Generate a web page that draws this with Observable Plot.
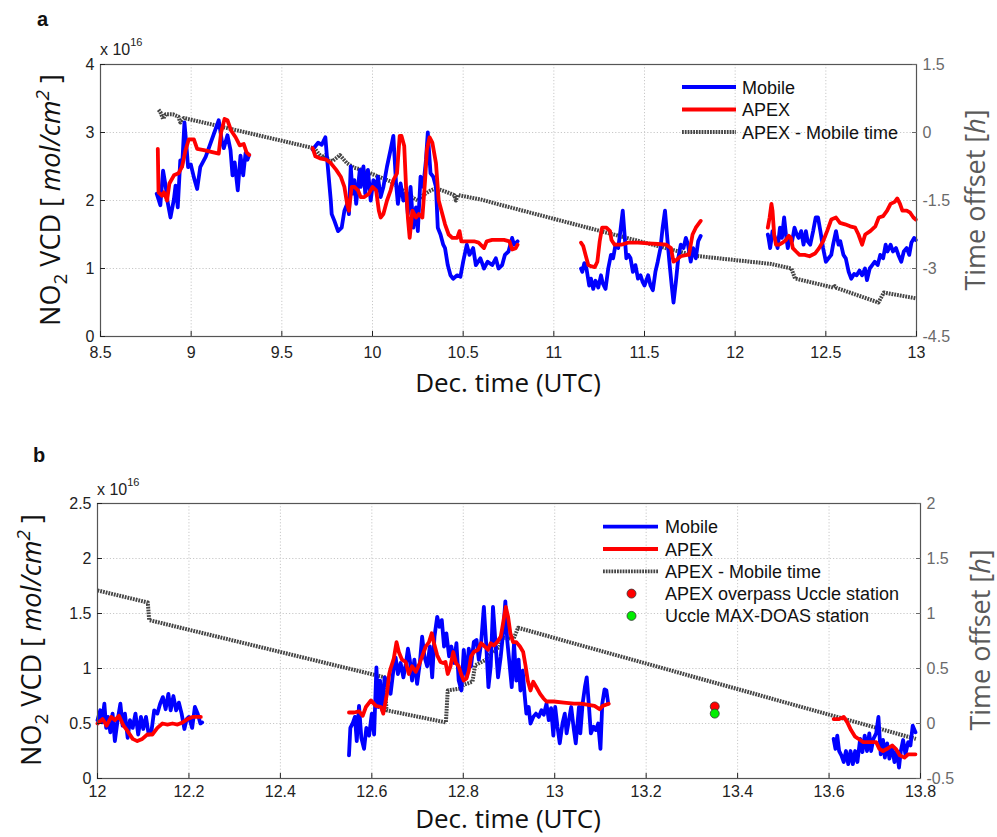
<!DOCTYPE html>
<html><head><meta charset="utf-8">
<script src="https://cdn.jsdelivr.net/npm/d3@7"></script>
<script src="https://cdn.jsdelivr.net/npm/@observablehq/plot@0.6"></script>
<style>
body{margin:0;background:#fff;}
#wrap{position:relative;width:997px;height:837px;overflow:hidden;}
#wrap svg{position:absolute;left:0;}
</style></head><body><div id="wrap"></div>
<script>
// ---------------- Panel a data (VCD in 1e16 molec/cm2, offset in h) ----------------
const aXTicks = [8.5, 9, 9.5, 10, 10.5, 11, 11.5, 12, 12.5, 13];
const aYTicks = [0, 1, 2, 3, 4];
const aRTicks = [-4.5, -3, -1.5, 0, 1.5];

const aMobileT = [8.81,8.83,8.845,8.86,8.87,8.886,8.905,8.914,8.926,8.94,8.95,8.963,8.974,8.983,8.998,9.015,9.033,9.05,9.08,9.152,9.17,9.18,9.2,9.217,9.228,9.24,9.257,9.272,9.287,9.3,9.31,9.32,
 null,
 9.67,9.70,9.72,9.74,9.75,9.77,9.775,9.79,9.81,9.83,9.845,9.86,9.87,9.88,9.89,9.90,9.91,9.93,9.935,9.95,9.96,9.975,9.99,10.005,10.02,10.03,10.045,10.06,10.08,10.10,10.115,10.13,10.14,10.155,10.17,10.185,10.195,10.21,10.225,10.24,10.25,10.265,10.28,10.295,10.305,10.32,10.335,10.35,10.36,10.375,10.39,10.40,10.415,10.43,10.445,10.467,10.485,10.50,10.52,10.535,10.555,10.57,10.595,10.615,10.635,10.66,10.68,10.695,10.715,10.73,10.75,10.77,10.78,10.80,
 null,
 11.15,11.157,11.168,11.18,11.195,11.205,11.217,11.23,11.245,11.26,11.27,11.285,11.30,11.315,11.327,11.34,11.355,11.367,11.38,11.39,11.40,11.412,11.423,11.436,11.45,11.464,11.478,11.49,11.50,11.52,11.533,11.546,11.56,11.573,11.588,11.60,11.613,11.624,11.637,11.65,11.66,11.673,11.686,11.70,11.715,11.728,11.74,11.755,11.768,11.783,11.796,11.81,
 null,
 12.18,12.184,12.193,12.206,12.22,12.234,12.247,12.258,12.27,12.28,12.29,12.303,12.314,12.327,12.34,12.35,12.364,12.377,12.39,12.40,12.414,12.43,12.444,12.457,12.47,12.485,12.50,12.515,12.53,12.54,12.556,12.57,12.58,12.597,12.61,12.626,12.64,12.656,12.67,12.686,12.70,12.716,12.727,12.742,12.756,12.77,12.786,12.80,12.816,12.83,12.84,12.857,12.87,12.887,12.90,12.916,12.93,12.946,12.96,12.972,12.987,12.996];
const aMobileV = [2.1,1.93,2.44,2.2,1.98,1.75,2.02,2.22,1.9,2.59,2.5,3.15,2.8,2.49,2.53,2.34,2.17,2.49,2.64,3.18,2.86,2.77,2.96,2.74,2.37,2.56,2.15,2.66,2.37,2.7,2.6,2.67,
 null,
 2.75,2.85,2.82,2.93,2.6,2.0,1.8,1.7,1.55,1.6,1.85,1.95,1.8,2.5,2.1,2.3,1.95,2.45,2.2,2.5,2.1,2.45,2.0,2.3,2.15,2.35,2.05,2.2,2.5,2.75,2.95,2.25,1.95,2.25,2.0,2.1,1.8,2.2,1.6,1.9,1.55,2.35,2.2,2.6,3.0,2.4,2.35,2.2,1.6,1.5,1.35,1.3,1.05,0.9,0.85,0.9,0.88,1.1,1.35,1.2,1.3,1.05,1.15,1.0,1.1,1.05,1.15,1.0,1.05,1.2,1.25,1.45,1.35,1.4,
 null,
 1.0,0.95,1.08,1.0,0.75,0.85,0.7,0.82,0.72,0.9,0.78,0.7,1.0,1.2,1.15,1.35,1.3,1.55,1.85,1.5,1.15,1.2,1.15,0.95,1.05,0.85,0.9,0.8,0.75,0.9,0.75,0.68,0.95,1.1,1.3,1.6,1.85,1.5,1.1,0.75,0.5,0.8,1.15,1.35,1.3,1.45,1.35,1.1,1.3,1.15,1.4,1.48,
 null,
 1.5,1.45,1.3,1.55,1.45,1.3,1.6,1.45,1.75,1.5,1.3,1.45,1.4,1.6,1.5,1.45,1.55,1.35,1.55,1.4,1.35,1.55,1.75,1.75,1.55,1.3,1.1,1.15,1.2,1.35,1.55,1.35,1.4,1.2,1.15,0.95,0.85,0.92,0.9,0.97,0.9,1.0,0.83,1.0,1.05,1.1,1.05,1.2,1.15,1.35,1.25,1.35,1.25,1.3,1.2,1.1,1.25,1.3,1.2,1.38,1.45,1.42];

const aApexT = [8.816,8.82,8.84,8.85,8.867,8.88,8.905,8.93,8.95,8.969,8.987,9.015,9.033,9.07,9.152,9.165,9.184,9.2,9.22,9.245,9.268,9.29,9.305,9.32,
 null,
 9.67,9.685,9.71,9.745,9.77,9.80,9.825,9.845,9.86,9.87,9.885,9.90,9.92,9.935,9.955,9.98,10.0,10.02,10.035,10.045,10.06,10.08,10.10,10.115,10.135,10.15,10.16,10.175,10.185,10.195,10.205,10.22,10.24,10.255,10.275,10.29,10.30,10.315,10.33,10.35,10.365,10.385,10.40,10.42,10.44,10.467,10.48,10.49,10.50,10.53,10.56,10.585,10.615,10.63,10.66,10.69,10.725,10.755,10.77,10.79,10.80,
 null,
 11.15,11.162,11.175,11.19,11.208,11.226,11.24,11.253,11.266,11.29,11.31,11.318,11.335,11.372,11.41,11.464,11.52,11.573,11.62,11.646,11.66,11.673,11.70,11.734,11.745,11.765,11.783,11.81,
 null,
 12.18,12.19,12.20,12.206,12.215,12.225,12.243,12.262,12.28,12.296,12.307,12.318,12.336,12.355,12.383,12.41,12.44,12.463,12.485,12.507,12.53,12.556,12.578,12.606,12.634,12.662,12.68,12.70,12.717,12.745,12.773,12.792,12.816,12.838,12.857,12.88,12.894,12.909,12.922,12.946,12.965,12.983,12.996];
const aApexV = [2.76,2.12,2.07,2.12,2.0,2.25,2.37,2.4,2.5,2.74,2.9,2.9,2.76,2.74,2.69,3.0,3.2,3.18,3.03,2.93,2.81,2.83,2.71,2.67,
 null,
 2.77,2.65,2.62,2.6,2.55,2.45,2.35,2.2,1.95,1.85,2.2,2.2,2.15,2.05,2.05,2.1,2.2,2.15,1.85,1.75,1.8,2.0,2.15,2.3,2.4,2.95,2.95,2.8,2.2,1.75,1.45,1.85,1.75,1.8,1.75,2.3,2.75,2.93,2.85,2.55,2.0,1.8,1.65,1.5,1.45,1.45,1.55,1.4,1.4,1.4,1.4,1.38,1.3,1.4,1.42,1.42,1.42,1.4,1.28,1.3,1.35,
 null,
 1.38,1.33,1.2,1.05,1.03,1.02,1.1,1.4,1.6,1.6,1.55,1.42,1.35,1.35,1.38,1.38,1.37,1.36,1.35,1.3,1.1,1.12,1.18,1.2,1.2,1.5,1.6,1.7,
 null,
 1.6,1.75,1.95,1.85,1.5,1.35,1.35,1.38,1.42,1.48,1.45,1.3,1.25,1.2,1.2,1.18,1.22,1.3,1.4,1.55,1.72,1.75,1.67,1.65,1.62,1.6,1.5,1.35,1.5,1.55,1.62,1.75,1.77,1.85,1.95,1.98,2.03,1.95,1.85,1.85,1.82,1.75,1.72];

const aOffsetT = [8.82,8.83,8.845,8.86,8.90,8.93,8.94,8.96,9.68,9.72,9.74,9.76,9.78,9.82,9.86,9.90,9.95,9.99,10.05,10.10,10.17,10.21,10.25,10.28,10.32,10.35,10.40,10.45,10.46,10.47,10.60,10.71,11.78,12.20,12.31,12.33,12.54,12.55,12.56,12.79,12.82,13.0];
const aOffsetV = [0.5,0.45,0.3,0.4,0.4,0.35,0.22,0.32,-0.35,-0.55,-0.5,-0.62,-0.63,-0.5,-0.68,-0.78,-0.83,-0.9,-1.0,-1.08,-1.28,-1.41,-1.5,-1.38,-1.28,-1.23,-1.3,-1.38,-1.5,-1.38,-1.48,-1.6,-2.72,-2.9,-3.0,-3.22,-3.42,-3.39,-3.43,-3.75,-3.53,-3.66];

// ---------------- Panel b data ----------------
const bXTicks = [12, 12.2, 12.4, 12.6, 12.8, 13, 13.2, 13.4, 13.6, 13.8];
const bYTicks = [0, 0.5, 1, 1.5, 2, 2.5];
const bRTicks = [-0.5, 0, 0.5, 1, 1.5, 2];

const bMobileT = [12.0,12.006,12.01,12.015,12.019,12.023,12.028,12.033,12.038,12.044,12.05,12.055,12.06,12.066,12.071,12.077,12.083,12.089,12.095,12.1,12.106,12.112,12.118,12.124,12.131,12.137,12.143,12.149,12.155,12.16,12.166,12.172,12.178,12.184,12.19,12.195,12.2,12.207,12.213,12.219,12.225,12.229,
 null,
 12.55,12.553,12.558,12.563,12.567,12.572,12.577,12.583,12.588,12.594,12.6,12.605,12.61,12.614,12.618,12.623,12.628,12.641,12.647,12.652,12.657,12.663,12.669,12.674,12.679,12.683,12.688,12.693,12.699,12.705,12.71,12.715,12.721,12.727,12.732,12.737,12.743,12.748,12.753,12.758,12.763,12.769,12.774,12.78,12.785,12.79,12.796,12.801,12.807,12.812,12.817,12.823,12.829,12.834,12.839,12.845,12.85,12.855,12.86,12.865,12.871,12.876,12.882,12.887,12.892,12.896,12.901,12.906,12.911,12.916,12.921,12.925,12.93,12.934,12.938,12.943,12.947,12.953,12.959,12.965,12.971,12.976,12.982,12.987,12.992,12.997,13.001,13.006,13.011,13.017,13.022,13.026,13.031,13.036,13.042,13.046,13.053,13.056,13.061,13.066,13.07,13.075,13.079,13.085,13.09,13.095,13.1,13.104,13.109,13.113,13.117,
 null,
 13.61,13.614,13.618,13.622,13.627,13.632,13.637,13.642,13.647,13.652,13.657,13.662,13.668,13.673,13.678,13.683,13.688,13.692,13.697,13.703,13.708,13.713,13.718,13.722,13.727,13.732,13.738,13.743,13.748,13.753,13.757,13.762,13.767,13.773,13.778,13.783,13.789];
const bMobileV = [0.53,0.62,0.51,0.68,0.46,0.56,0.42,0.59,0.34,0.53,0.68,0.48,0.59,0.37,0.53,0.46,0.59,0.4,0.56,0.45,0.56,0.4,0.43,0.62,0.59,0.68,0.74,0.63,0.77,0.62,0.75,0.62,0.69,0.59,0.45,0.54,0.56,0.46,0.65,0.59,0.5,0.51,
 null,
 0.21,0.46,0.5,0.56,0.34,0.66,0.37,0.27,0.46,0.39,0.59,0.4,1.01,0.65,0.89,0.62,0.92,0.77,0.98,1.1,0.95,1.05,0.92,1.03,1.18,1.08,0.89,1.08,0.86,1.05,1.29,1.11,1.02,1.2,0.92,1.29,1.47,1.38,1.44,1.2,1.32,1.11,1.2,1.05,1.23,0.89,0.8,1.17,0.92,1.18,1.02,1.24,1.26,1.08,1.23,1.56,1.23,0.83,1.02,1.56,1.2,0.92,1.11,1.32,1.61,1.26,1.05,0.83,1.23,0.89,1.08,0.8,0.98,0.77,0.59,0.65,0.5,0.56,0.59,0.56,0.62,0.58,0.68,0.53,0.64,0.39,0.65,0.47,0.32,0.5,0.59,0.41,0.53,0.65,0.44,0.32,0.65,0.41,0.68,0.83,0.92,0.65,0.41,0.47,0.44,0.5,0.27,0.68,0.81,0.8,0.68,
 null,
 0.36,0.27,0.39,0.25,0.21,0.15,0.25,0.13,0.25,0.13,0.25,0.15,0.36,0.24,0.39,0.25,0.41,0.25,0.36,0.41,0.56,0.22,0.35,0.19,0.32,0.18,0.29,0.15,0.25,0.1,0.25,0.35,0.22,0.33,0.3,0.48,0.42];

const bApexT = [12.0,12.011,12.02,12.03,12.038,12.047,12.057,12.066,12.077,12.087,12.098,12.109,12.12,12.131,12.142,12.153,12.164,12.175,12.186,12.197,12.208,12.219,12.226,
 null,
 12.55,12.561,12.572,12.58,12.587,12.598,12.609,12.62,12.625,12.633,12.638,12.641,12.648,12.654,12.659,12.666,12.674,12.681,12.688,12.696,12.703,12.71,12.718,12.725,12.731,12.736,12.743,12.75,12.756,12.761,12.766,12.772,12.778,12.784,12.79,12.796,12.801,12.807,12.812,12.817,12.823,12.832,12.839,12.847,12.854,12.86,12.867,12.874,12.882,12.887,12.893,12.898,12.903,12.909,12.916,12.924,12.931,12.936,12.941,12.947,12.953,12.96,12.968,12.975,12.982,12.998,13.02,13.042,13.057,13.087,13.098,13.105,13.118,
 null,
 13.61,13.622,13.632,13.64,13.648,13.657,13.668,13.675,13.69,13.703,13.71,13.718,13.727,13.738,13.746,13.755,13.765,13.773,13.78,13.789];
const bApexV = [0.5,0.54,0.48,0.56,0.53,0.57,0.48,0.43,0.36,0.34,0.36,0.4,0.4,0.46,0.5,0.49,0.5,0.49,0.51,0.54,0.56,0.56,0.56,
 null,
 0.6,0.6,0.61,0.57,0.65,0.71,0.66,0.65,0.59,0.77,0.95,1.0,1.09,1.24,1.15,1.08,1.06,0.95,1.02,0.97,1.03,1.11,1.2,1.24,1.32,1.23,1.12,1.06,1.05,1.06,0.95,1.02,1.15,1.05,1.02,0.94,0.89,0.91,0.98,1.11,1.15,1.17,1.23,1.2,1.17,1.23,1.21,1.24,1.29,1.41,1.56,1.47,1.32,1.24,1.24,1.2,1.15,1.03,0.89,0.8,0.88,0.83,0.77,0.73,0.7,0.7,0.69,0.68,0.68,0.66,0.63,0.66,0.68,
 null,
 0.54,0.54,0.56,0.51,0.44,0.38,0.35,0.33,0.33,0.33,0.27,0.25,0.27,0.3,0.27,0.21,0.19,0.22,0.22,0.22];

const bOffsetT = [12.0,12.11,12.113,12.628,12.632,12.762,12.766,12.795,12.80,12.82,12.826,12.85,12.855,12.88,12.883,12.91,12.92,13.79];
const bOffsetV = [1.21,1.1,0.94,0.42,0.12,0.01,0.30,0.32,0.35,0.38,0.53,0.58,0.62,0.70,0.78,0.77,0.87,-0.14];

const bOverpassT = [13.35], bOverpassV = [0.655];
const bUccleT = [13.35], bUccleV = [0.59];

// ---------------- drawing ----------------
const BLUE = "#0000ff", RED = "#ff0000", GRAY = "#454545";
const TITLE_FONT = "'Open Sans', Lato, sans-serif";
const TICK_FONT = "'Liberation Sans', Arial, sans-serif";
const fmt = v => String(+v.toFixed(2));
const rows = (T, V) => T.map((t, i) => ({t, v: V[i]}));

function panel(o) {
  const [y0, y1] = o.yDomain, [r0, r1] = o.rDomain;
  const toLeft = r => (r - r0) / (r1 - r0) * (y1 - y0) + y0;
  const fromLeft = y => (y - y0) / (y1 - y0) * (r1 - r0) + r0;
  const marks = [
    Plot.gridX({ticks: o.xTicks, stroke: "#c8c8c8", strokeOpacity: 1, strokeDasharray: "1.2,2", strokeWidth: 1}),
    Plot.gridY({ticks: o.yTicks, stroke: "#c8c8c8", strokeOpacity: 1, strokeDasharray: "1.2,2", strokeWidth: 1}),
    Plot.line(rows(o.offT, o.offV), {x: "t", y: d => toLeft(d.v), stroke: GRAY, strokeWidth: 4, strokeDasharray: "1.8,1", strokeLinecap: "butt"}),
    Plot.line(rows(o.mobT, o.mobV), {x: "t", y: "v", stroke: BLUE, strokeWidth: 3.8, strokeLinejoin: "round"}),
    Plot.line(rows(o.apexT, o.apexV), {x: "t", y: "v", stroke: RED, strokeWidth: 3.8, strokeLinejoin: "round"})
  ];
  if (o.dots) {
    marks.push(Plot.dot(rows(bOverpassT, bOverpassV), {x: "t", y: "v", r: 4.5, fill: RED, stroke: "#333", strokeWidth: 0.8}));
    marks.push(Plot.dot(rows(bUccleT, bUccleV), {x: "t", y: "v", r: 4.5, fill: "#00ee00", stroke: "#333", strokeWidth: 0.8}));
  }
  marks.push(
    Plot.frame({stroke: "#555", strokeWidth: 1.2}),
    Plot.axisX({ticks: o.xTicks, tickSize: -5, tickPadding: o.xPad, tickFormat: fmt, label: null, fontSize: 16, color: "#222", fontFamily: TICK_FONT}),
    Plot.axisY({ticks: o.yTicks, anchor: "left", tickSize: -5, tickPadding: 11, tickFormat: fmt, label: null, fontSize: 16, color: "#222", fontFamily: TICK_FONT}),
    Plot.axisY({ticks: o.rTicks.map(toLeft), anchor: "right", tickSize: -5, tickPadding: 11, tickFormat: y => fmt(fromLeft(y)), label: null, fontSize: 16, color: "#6a6a6a", fontFamily: TICK_FONT})
  );
  const svg = Plot.plot({
    width: 997, height: o.height,
    marginTop: o.mt, marginBottom: o.mb, marginLeft: o.ml, marginRight: o.mr,
    x: {domain: o.xDomain}, y: {domain: o.yDomain},
    style: {fontFamily: TICK_FONT, fontSize: "16px", background: "transparent", overflow: "visible"},
    marks
  });
  svg.style.top = o.top + "px";
  const s = d3.select(svg);
  const g = s.append("g").attr("text-anchor", "start");
  // panel letter
  g.append("text").attr("x", o.letter[0]).attr("y", o.letter[1]).attr("font-family", TICK_FONT).attr("text-anchor", "start")
    .attr("font-size", 20).attr("font-weight", "bold").attr("fill", "#111").text(o.letterText);
  // x 10^16
  const ex = g.append("text").attr("x", o.exp[0]).attr("y", o.exp[1]).attr("font-family", TICK_FONT).attr("text-anchor", "start")
    .attr("font-size", 16).attr("fill", "#222");
  ex.append("tspan").text("x 10");
  ex.append("tspan").attr("dy", -9).attr("font-size", 11).text("16");
  // x title
  g.append("text").attr("x", o.xt[0]).attr("y", o.xt[1]).attr("text-anchor", "middle").attr("font-family", TITLE_FONT)
    .attr("font-size", 26).attr("fill", "#111").text("Dec. time (UTC)");
  // y title
  const yt = g.append("text").attr("transform", `translate(${o.yt[0]},${o.yt[1]}) rotate(-90)`).attr("text-anchor", "middle")
    .attr("font-family", TITLE_FONT).attr("font-size", 27).attr("fill", "#111");
  yt.append("tspan").text("NO");
  yt.append("tspan").attr("dy", 7).attr("font-size", 19).text("2");
  yt.append("tspan").attr("dy", -7).text(" VCD [ ");
  yt.append("tspan").attr("font-style", "italic").text("mol/cm");
  yt.append("tspan").attr("dy", -11).attr("font-size", 19).attr("font-style", "italic").text("2");
  yt.append("tspan").attr("dy", 11).text(" ]");
  // right title
  const rt = g.append("text").attr("transform", `translate(${o.rt[0]},${o.rt[1]}) rotate(-90)`).attr("text-anchor", "middle")
    .attr("font-family", TITLE_FONT).attr("font-size", 27).attr("fill", "#5a5a5a");
  rt.append("tspan").text("Time offset [");
  rt.append("tspan").attr("font-style", "italic").text("h");
  rt.append("tspan").text("]");
  // legend
  const L = o.legend;
  L.items.forEach((it, i) => {
    const cy = L.y0 + i * L.dy;
    if (it.type === "line") {
      g.append("line").attr("x1", L.x1).attr("x2", L.x2).attr("y1", cy).attr("y2", cy)
        .attr("stroke", it.color).attr("stroke-width", 3.8).attr("stroke-dasharray", it.dash || null);
    } else {
      g.append("circle").attr("cx", (L.x1 + L.x2) / 2 + 1).attr("cy", cy).attr("r", 4.5)
        .attr("fill", it.color).attr("stroke", "#333").attr("stroke-width", 0.8);
    }
    g.append("text").attr("x", L.tx).attr("y", cy + 6.5).attr("text-anchor", "start").attr("font-family", TICK_FONT).attr("font-size", 18)
      .attr("fill", "#111").text(it.label);
  });
  document.getElementById("wrap").appendChild(svg);
}

panel({
  top: 0, height: 418, mt: 64, mb: 82, ml: 100, mr: 81, xPad: 15,
  xDomain: [8.5, 13], yDomain: [0, 4], rDomain: [-4.5, 1.5],
  xTicks: aXTicks, yTicks: aYTicks, rTicks: aRTicks,
  mobT: aMobileT, mobV: aMobileV, apexT: aApexT, apexV: aApexV, offT: aOffsetT, offV: aOffsetV,
  letter: [37, 26], letterText: "a", exp: [100, 55],
  xt: [508, 392], yt: [60, 200], rt: [985, 200],
  legend: {x1: 682, x2: 736, tx: 742, y0: 87, dy: 22.5, items: [
    {type: "line", color: BLUE, label: "Mobile"},
    {type: "line", color: RED, label: "APEX"},
    {type: "line", color: GRAY, dash: "1.8,1", label: "APEX - Mobile time"}]}
});

panel({
  top: 418, height: 419, mt: 85, mb: 59, ml: 97, mr: 77, xPad: 12,
  xDomain: [12, 13.8], yDomain: [0, 2.5], rDomain: [-0.5, 2],
  xTicks: bXTicks, yTicks: bYTicks, rTicks: bRTicks,
  mobT: bMobileT, mobV: bMobileV, apexT: bApexT, apexV: bApexV, offT: bOffsetT, offV: bOffsetV, dots: true,
  letter: [33, 44], letterText: "b", exp: [97, 77],
  xt: [508, 410], yt: [41, 222], rt: [990, 222],
  legend: {x1: 603, x2: 658, tx: 665, y0: 108.7, dy: 22.3, items: [
    {type: "line", color: BLUE, label: "Mobile"},
    {type: "line", color: RED, label: "APEX"},
    {type: "line", color: GRAY, dash: "1.8,1", label: "APEX - Mobile time"},
    {type: "dot", color: RED, label: "APEX overpass Uccle station"},
    {type: "dot", color: "#00ee00", label: "Uccle MAX-DOAS station"}]}
});
</script></body></html>
